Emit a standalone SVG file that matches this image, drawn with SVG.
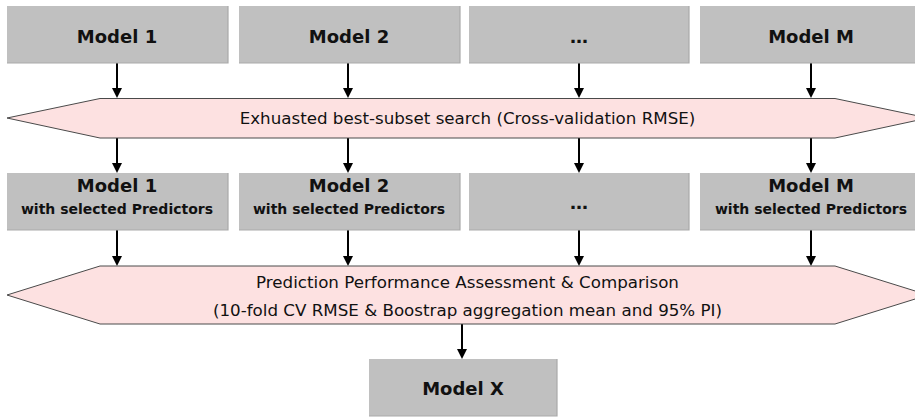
<svg xmlns="http://www.w3.org/2000/svg" width="915" height="417" viewBox="0 0 915 417">
<style>
.box{fill:#c0c0c0;}
.sh{fill:none;stroke:#a9a9a9;stroke-width:1.2;}
.hex{fill:#fde1e1;stroke:#4a4a4a;stroke-width:1;}
.t{font-family:"DejaVu Sans","Liberation Sans",sans-serif;font-weight:bold;font-size:18px;fill:#111;text-anchor:middle;}
.s{font-family:"DejaVu Sans","Liberation Sans",sans-serif;font-weight:bold;font-size:14px;fill:#111;text-anchor:middle;}
.h{font-family:"DejaVu Sans","Liberation Sans",sans-serif;font-size:16.7px;fill:#111;text-anchor:middle;}
.c{stroke:#000;stroke-width:2;fill:none;}
.a{fill:#000;}
</style>

<g id="connectors">
<path class="c" d="M117,63 V89"/><polygon class="a" points="112,88 122,88 117,98"/>
<path class="c" d="M348,63 V89"/><polygon class="a" points="343,88 353,88 348,98"/>
<path class="c" d="M579,63 V89"/><polygon class="a" points="574,88 584,88 579,98"/>
<path class="c" d="M811,63 V89"/><polygon class="a" points="806,88 816,88 811,98"/>
<path class="c" d="M117,138 V164"/><polygon class="a" points="112,163 122,163 117,173"/>
<path class="c" d="M348,138 V164"/><polygon class="a" points="343,163 353,163 348,173"/>
<path class="c" d="M579,138 V164"/><polygon class="a" points="574,163 584,163 579,173"/>
<path class="c" d="M811,138 V164"/><polygon class="a" points="806,163 816,163 811,173"/>
<path class="c" d="M117,230 V257"/><polygon class="a" points="112,256 122,256 117,266"/>
<path class="c" d="M348,230 V257"/><polygon class="a" points="343,256 353,256 348,266"/>
<path class="c" d="M579,230 V257"/><polygon class="a" points="574,256 584,256 579,266"/>
<path class="c" d="M811,230 V257"/><polygon class="a" points="806,256 816,256 811,266"/>
<path class="c" d="M462,324 V350"/><polygon class="a" points="457,349 467,349 462,359"/>
</g>

<g id="model1">
<rect class="box" x="7" y="6" width="221" height="57"/>
<path class="sh" d="M228,6 V63 H7"/>
<text class="t" x="117" y="43">Model 1</text>
</g>
<g id="model2">
<rect class="box" x="239" y="6" width="221" height="57"/>
<path class="sh" d="M460,6 V63 H239"/>
<text class="t" x="349" y="43">Model 2</text>
</g>
<g id="modeldots">
<rect class="box" x="469" y="6" width="220" height="57"/>
<path class="sh" d="M689,6 V63 H469"/>
<text class="t" x="579" y="43" font-size="15">…</text>
</g>
<g id="modelM">
<rect class="box" x="700" y="6" width="222" height="57"/>
<path class="sh" d="M700,63 H922"/>
<text class="t" x="811" y="43">Model M</text>
</g>

<g id="search">
<polygon class="hex" points="7,118 100,98.5 835,98.5 928,118 835,138 100,138"/>
<text class="h" x="467.5" y="124">Exhuasted best-subset search (Cross-validation RMSE)</text>
</g>

<g id="sel1">
<rect class="box" x="7" y="173" width="221" height="57"/>
<path class="sh" d="M228,173 V230 H7"/>
<text class="t" x="117" y="192">Model 1</text>
<text class="s" x="117" y="214">with selected Predictors</text>
</g>
<g id="sel2">
<rect class="box" x="239" y="173" width="221" height="57"/>
<path class="sh" d="M460,173 V230 H239"/>
<text class="t" x="349" y="192">Model 2</text>
<text class="s" x="349" y="214">with selected Predictors</text>
</g>
<g id="seldots">
<rect class="box" x="469" y="173" width="220" height="57"/>
<path class="sh" d="M689,173 V230 H469"/>
<text class="t" x="579" y="209" font-size="15">…</text>
</g>
<g id="selM">
<rect class="box" x="700" y="173" width="222" height="57"/>
<path class="sh" d="M700,230 H922"/>
<text class="t" x="811" y="192">Model M</text>
<text class="s" x="811" y="214">with selected Predictors</text>
</g>

<g id="assessment">
<polygon class="hex" points="7,295 100,266 835,266 928,295 835,324 100,324"/>
<text class="h" x="467.5" y="288">Prediction Performance Assessment &amp; Comparison</text>
<text class="h" x="467.5" y="316">(10-fold CV RMSE &amp; Boostrap aggregation mean and 95% PI)</text>
</g>

<g id="modelX">
<rect class="box" x="369" y="359" width="188" height="57"/>
<path class="sh" d="M557,359 V416 H369"/>
<text class="t" x="463" y="395">Model X</text>
</g>
</svg>
